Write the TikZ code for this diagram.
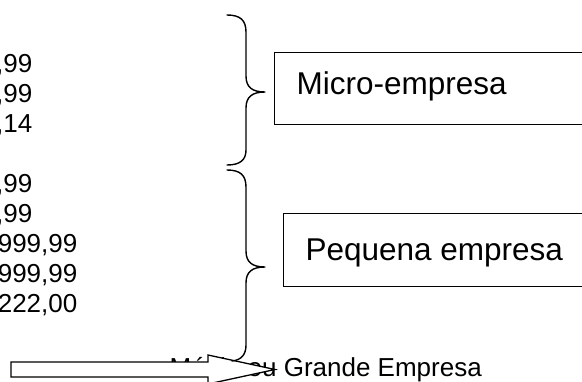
\documentclass[tikz,border=0pt]{standalone}
\usepackage{fontspec}
\setmainfont{Liberation Sans}
\begin{document}
\begin{tikzpicture}[x=1pt,y=-1pt,line width=1.3pt,
  listtxt/.style={font=\fontsize{26}{30}\selectfont,inner sep=0pt,anchor=base east},
  boxtxt/.style={font=\fontsize{31.5}{36}\selectfont,inner sep=0pt,anchor=base west},
  panel/.style={draw,line width=1.3pt,anchor=north west,inner sep=0pt,minimum width=340pt},
  bracepath/.style={line width=1.4pt,line join=round,line cap=round}]
\useasboundingbox (0,0) rectangle (582,381);

% value ranges (left column)
\node[listtxt] (v1) at (33,72)  {,99};
\node[listtxt] (v2) at (33,102) {,99};
\node[listtxt] (v3) at (33,132) {,14};
\node[listtxt] (v4) at (33,192) {,99};
\node[listtxt] (v5) at (33,222) {,99};
\node[listtxt] (v6) at (78,252) {999,99};
\node[listtxt] (v7) at (78,282) {999,99};
\node[listtxt] (v8) at (78,312) {222,00};

% category boxes
\node[panel,minimum height=72pt] (micro) at (274,52) {};
\node[boxtxt] (microtxt) at (296,94) {Micro-empresa};
\node[panel,minimum height=73pt] (peq) at (283,213) {};
\node[boxtxt] (peqtxt) at (305,260) {Pequena empresa};

% bottom label, partly covered by the block arrow
\node[font=\fontsize{26}{30}\selectfont,inner sep=0pt,anchor=base west] (grande) at (169,376) {Média ou Grande Empresa};

% block arrow
\draw[fill=white,line join=miter] (11,362) -- (208,362) -- (208,355) -- (275,369.5)
  -- (208,384) -- (208,377) -- (11,377) -- cycle;

% curly braces
\draw[bracepath] (227,15) .. controls (240,15) and (246,20) .. (246,32) -- (246,76)
  .. controls (246,87) and (252,92) .. (265,92)
  .. controls (252,92) and (246,97) .. (246,108) -- (246,150)
  .. controls (246,160) and (240,165) .. (227,165);
\draw[bracepath] (227,170) .. controls (240,170) and (246,175) .. (246,187) -- (246,251)
  .. controls (246,262) and (252,267) .. (265,267)
  .. controls (252,267) and (246,272) .. (246,283) -- (246,345)
  .. controls (246,355) and (241,360) .. (232,361);
\end{tikzpicture}
\end{document}
